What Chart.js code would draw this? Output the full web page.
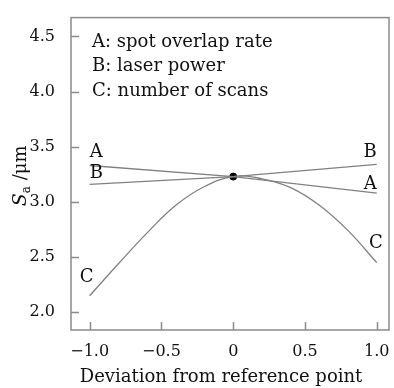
<!DOCTYPE html>
<html>
<head>
<meta charset="utf-8">
<script src="https://cdn.jsdelivr.net/npm/chart.js@4.4.1/dist/chart.umd.min.js"></script>
<style>
  html, body { margin: 0; padding: 0; background: #fff; }
  #wrap { width: 394px; height: 388px; }
</style>
</head>
<body>
<div id="wrap"><canvas id="saChart"></canvas></div>
<script>
// deviation from the reference point (normalised)
var lineX = [-1.0, 0, 1.0];
var overlapRate = [3.33, 3.23, 3.08];   // A
var laserPower = [3.16, 3.23, 3.34];    // B
var curveX = [-1.0, -0.8, -0.6, -0.4, -0.2, 0, 0.2, 0.4, 0.6, 0.8, 1.0];
var scanCount = [2.15, 2.44, 2.72, 2.97, 3.14, 3.23, 3.21, 3.13, 2.97, 2.74, 2.45]; // C
var refPoint = [0, 3.23];

var xTicks = [-1.0, -0.5, 0, 0.5, 1.0];
var yTicks = [2.0, 2.5, 3.0, 3.5, 4.0, 4.5];
var seriesNames = ["A", "B", "C"];
var legendLines = ["A: spot overlap rate", "B: laser power", "C: number of scans"];
var xTitle = "Deviation from reference point";

var SERIF = "'DejaVu Serif', 'Liberation Serif', serif";
var LINE_COLOR = "#808080";
var TEXT_COLOR = "#111";

function toPoints(xs, ys) {
  return xs.map(function (x, i) { return { x: x, y: ys[i] }; });
}

function fmtTick(v) {
  if (v === 0) return "0";
  var s = Math.abs(v).toFixed(1);
  return v < 0 ? "\u2212" + s : s;
}

// box frame, inward tick marks, end labels, key text and axis titles
var decorPlugin = {
  id: "decor",
  afterDraw: function (chart) {
    var ctx = chart.ctx, a = chart.chartArea;
    var xs = chart.scales.x, ys = chart.scales.y;
    ctx.save();

    ctx.strokeStyle = "#8a8a8a";
    ctx.lineWidth = 1.5;
    ctx.strokeRect(a.left, a.top, a.right - a.left, a.bottom - a.top);
    ctx.beginPath();
    yTicks.forEach(function (v) {
      var p = Math.round(ys.getPixelForValue(v)) + 0.5;
      ctx.moveTo(a.left, p);
      ctx.lineTo(a.left + 8, p);
    });
    xTicks.forEach(function (v) {
      var p = Math.round(xs.getPixelForValue(v)) + 0.5;
      ctx.moveTo(p, a.bottom);
      ctx.lineTo(p, a.bottom - 8);
    });
    ctx.stroke();

    ctx.fillStyle = TEXT_COLOR;
    ctx.font = "18px " + SERIF;

    // series labels at both ends of each line
    var ends = [
      { s: overlapRate, last: false, dx: 0, dy: -4, align: "left" },
      { s: laserPower, last: false, dx: 0, dy: -2, align: "left" },
      { s: scanCount, last: false, dx: -3, dy: -9, align: "center", curve: true },
      { s: overlapRate, last: true, dx: 0, dy: 0, align: "right" },
      { s: laserPower, last: true, dx: 0, dy: -3, align: "right" },
      { s: scanCount, last: true, dx: -1, dy: -10, align: "center", curve: true }
    ];
    var names = [seriesNames[0], seriesNames[1], seriesNames[2], seriesNames[0], seriesNames[1], seriesNames[2]];
    ends.forEach(function (e, i) {
      var xsrc = e.curve ? curveX : lineX;
      var idx = e.last ? xsrc.length - 1 : 0;
      var px = xs.getPixelForValue(xsrc[idx]) + e.dx;
      var py = ys.getPixelForValue(e.s[idx]) + e.dy;
      ctx.textAlign = e.align;
      ctx.textBaseline = "bottom";
      ctx.fillText(names[i], px, py);
    });

    // key text in the upper left
    ctx.textAlign = "left";
    ctx.textBaseline = "alphabetic";
    legendLines.forEach(function (t, i) {
      ctx.fillText(t, a.left + 21, a.top + 29 + i * 24.5);
    });

    // x title
    ctx.textAlign = "center";
    ctx.fillText(xTitle, 221, a.bottom + 52);

    // y title: S_a /μm, rotated
    ctx.translate(21, (a.top + a.bottom) / 2 + 2);
    ctx.rotate(-Math.PI / 2);
    ctx.textAlign = "left";
    ctx.textBaseline = "middle";
    ctx.font = "italic 19px " + SERIF;
    var w1 = ctx.measureText("S").width;
    ctx.font = "12px " + SERIF;
    var w2 = ctx.measureText("a").width;
    ctx.font = "18px " + SERIF;
    var w3 = ctx.measureText(" /\u03bcm").width;
    var x0 = -(w1 + w2 + w3) / 2;
    ctx.font = "italic 19px " + SERIF;
    ctx.fillText("S", x0, 0);
    ctx.font = "12px " + SERIF;
    ctx.fillText("a", x0 + w1, 6);
    ctx.font = "18px " + SERIF;
    ctx.fillText(" /\u03bcm", x0 + w1 + w2, 0);
    ctx.restore();
  }
};

var ctx = document.getElementById("saChart").getContext("2d");
var saChart = new Chart(ctx, {
  type: "scatter",
  data: {
    datasets: [
      {
        label: "A",
        data: toPoints(lineX, overlapRate),
        showLine: true,
        borderColor: LINE_COLOR,
        borderWidth: 1.3,
        pointRadius: 0,
        tension: 0
      },
      {
        label: "B",
        data: toPoints(lineX, laserPower),
        showLine: true,
        borderColor: LINE_COLOR,
        borderWidth: 1.3,
        pointRadius: 0,
        tension: 0
      },
      {
        label: "C",
        data: toPoints(curveX, scanCount),
        showLine: true,
        borderColor: LINE_COLOR,
        borderWidth: 1.3,
        pointRadius: 0,
        tension: 0.4
      },
      {
        label: "ref",
        data: [{ x: refPoint[0], y: refPoint[1] }],
        pointRadius: 3.5,
        pointBackgroundColor: "#000",
        pointBorderColor: "#000"
      }
    ]
  },
  options: {
    responsive: true,
    maintainAspectRatio: false,
    animation: false,
    layout: { padding: { top: 5, right: 4, left: 0, bottom: 0 } },
    plugins: {
      legend: { display: false },
      tooltip: { enabled: false }
    },
    scales: {
      x: {
        type: "linear",
        min: -1.13,
        max: 1.085,
        grid: { display: false },
        border: { display: false },
        afterBuildTicks: function (s) {
          s.ticks = xTicks.map(function (v) { return { value: v }; });
        },
        afterFit: function (s) { s.height = 58; },
        ticks: {
          color: TEXT_COLOR,
          font: { family: SERIF, size: 16 },
          padding: 4,
          maxRotation: 0,
          callback: function (v) { return fmtTick(v); }
        }
      },
      y: {
        type: "linear",
        min: 1.84,
        max: 4.67,
        grid: { display: false },
        border: { display: false },
        afterBuildTicks: function (s) {
          s.ticks = yTicks.map(function (v) { return { value: v }; });
        },
        afterFit: function (s) { s.width = 71; },
        ticks: {
          color: TEXT_COLOR,
          font: { family: SERIF, size: 16 },
          padding: 8,
          callback: function (v) { return fmtTick(v); }
        }
      }
    }
  },
  plugins: [decorPlugin]
});
</script>
</body>
</html>
